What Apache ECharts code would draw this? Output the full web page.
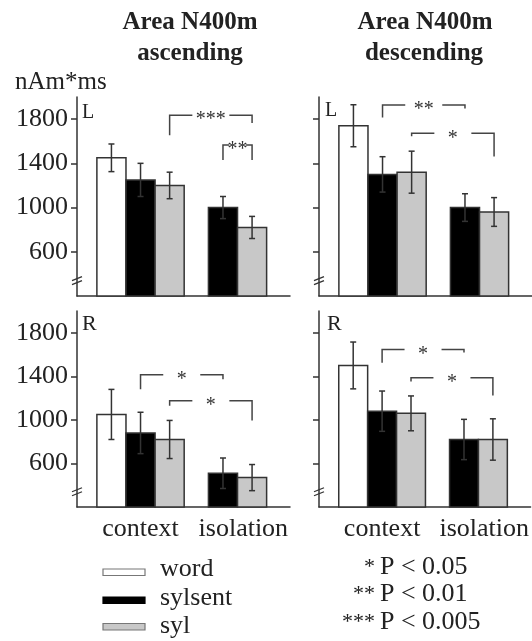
<!DOCTYPE html>
<html>
<head>
<meta charset="utf-8">
<script src="https://cdn.jsdelivr.net/npm/echarts@6/dist/echarts.min.js"></script>
<style>
  html, body { margin: 0; padding: 0; background: #fff; }
  #chart { width: 532px; height: 641px; }
</style>
</head>
<body>
<div id="chart"></div>
<script>
const groups = ['context', 'isolation'];
const conditions = ['word', 'sylsent', 'syl'];
const condColors = ['#ffffff', '#000000', '#c8c8c8'];

// bar order in every panel: context word, context sylsent, context syl, isolation sylsent, isolation syl
const barGroup = [0, 0, 0, 1, 1];
const barCond = [0, 1, 2, 1, 2];

const yTicks = [600, 1000, 1400, 1800];

const ascL_mean = [1450, 1250, 1200, 1000, 820];
const ascL_err = [125, 150, 120, 100, 100];
const descL_mean = [1740, 1300, 1320, 1000, 960];
const descL_err = [190, 160, 190, 125, 130];
const ascR_mean = [1050, 880, 820, 510, 470];
const ascR_err = [230, 190, 175, 140, 120];
const descR_mean = [1500, 1080, 1060, 820, 820];
const descR_err = [215, 185, 160, 185, 190];

// brackets: [from bar, to bar, line level, left leg end, right leg end, label]
const ascL_sig = [[2, 4, 1836, 1655, 1764, '***'], [3, 4, 1565, 1430, 1430, '**']];
const descL_sig = [[1, 3, 1927, 1815, 1897, '**'], [2, 4, 1671, 1646, 1462, '*']];
const ascR_sig = [[1, 3, 1414, 1282, 1374, '*'], [2, 4, 1175, 1129, 994, '*']];
const descR_sig = [[1, 3, 1647, 1524, 1620, '*'], [2, 4, 1386, 1352, 1223, '*']];

const sigStars = ['*', '**', '***'];
const sigLabels = ['P < 0.05', 'P < 0.01', 'P < 0.005'];

const Y_MIN = 200, Y_MAX = 2000;
const X_MIN = -0.655, X_MAX = 1.541;
const BAR_W = 0.3;
const SERIF = 'Liberation Serif, serif';
const INK = '#333';

function barX(i) {
  const g = barGroup[i];
  const n = barGroup.filter(v => v === g).length;
  const slot = barGroup.slice(0, i).filter(v => v === g).length;
  return g + (slot - (n - 1) / 2) * BAR_W;
}

function renderBar(params, api) {
  const i = api.value(3);
  const mean = api.value(1), err = api.value(2);
  const xc = barX(i);
  const tl = api.coord([xc - BAR_W / 2, mean]);
  const br = api.coord([xc + BAR_W / 2, Y_MIN]);
  const hi = api.coord([xc, mean + err]);
  const lo = api.coord([xc, mean - err]);
  const ln = { stroke: INK, lineWidth: 1.5 };
  return {
    type: 'group',
    children: [
      { type: 'rect', shape: { x: tl[0], y: tl[1], width: br[0] - tl[0], height: br[1] - tl[1] },
        style: { fill: condColors[barCond[i]], stroke: INK, lineWidth: 1.5 } },
      { type: 'line', shape: { x1: hi[0], y1: hi[1], x2: lo[0], y2: lo[1] }, style: ln },
      { type: 'line', shape: { x1: hi[0] - 3, y1: hi[1], x2: hi[0] + 3, y2: hi[1] }, style: ln },
      { type: 'line', shape: { x1: lo[0] - 3, y1: lo[1], x2: lo[0] + 3, y2: lo[1] }, style: ln }
    ]
  };
}

function makeSigRenderer(sig) {
  return function (params, api) {
    const r = sig[params.dataIndex];
    const xa = barX(r[0]), xb = barX(r[1]);
    const a = api.coord([xa, r[2]]), b = api.coord([xb, r[2]]);
    const la = api.coord([xa, r[3]]), rb = api.coord([xb, r[4]]);
    const gap = Math.min(37, b[0] - a[0] - 12);
    const mid = (a[0] + b[0]) / 2;
    const ln = { stroke: '#444', lineWidth: 1.5, fill: null };
    return {
      type: 'group',
      children: [
        { type: 'polyline', shape: { points: [la, a, [mid - gap / 2, a[1]]] }, style: ln },
        { type: 'polyline', shape: { points: [[mid + gap / 2, b[1]], b, rb] }, style: ln },
        { type: 'text', x: mid, y: a[1] + 5,
          style: { text: r[5], font: '20px ' + SERIF, fill: INK, align: 'center', verticalAlign: 'middle' } }
      ]
    };
  };
}

function renderBreak(params, api) {
  const p = api.coord([X_MIN, api.value(1)]);
  const ln = { stroke: INK, lineWidth: 1.3 };
  return {
    type: 'group',
    children: [
      { type: 'line', shape: { x1: p[0] - 5, y1: p[1], x2: p[0] + 5, y2: p[1] - 4 }, style: ln },
      { type: 'line', shape: { x1: p[0] - 5, y1: p[1] + 4, x2: p[0] + 5, y2: p[1] }, style: ln }
    ]
  };
}

const panels = [
  { mean: ascL_mean, err: ascL_err, sig: ascL_sig, grid: { left: 77, top: 97, width: 213, height: 199 }, yLab: true, xLab: false },
  { mean: descL_mean, err: descL_err, sig: descL_sig, grid: { left: 319, top: 97, width: 213, height: 199 }, yLab: false, xLab: false },
  { mean: ascR_mean, err: ascR_err, sig: ascR_sig, grid: { left: 77, top: 311, width: 213, height: 196 }, yLab: true, xLab: true },
  { mean: descR_mean, err: descR_err, sig: descR_sig, grid: { left: 319, top: 311, width: 213, height: 196 }, yLab: false, xLab: true }
];

const grid = [], xAxis = [], yAxis = [], series = [];
panels.forEach((p, k) => {
  grid.push(p.grid);
  xAxis.push({
    type: 'value', gridIndex: k, min: X_MIN, max: X_MAX,
    axisLine: { show: true, onZero: false, lineStyle: { color: INK, width: 1.5 } },
    axisTick: { show: false },
    splitLine: { show: false },
    axisLabel: {
      show: p.xLab, customValues: [0, 1.06], margin: 9,
      formatter: v => groups[Math.round(v)],
      fontFamily: SERIF, fontSize: 26, color: '#222'
    }
  });
  yAxis.push({
    type: 'value', gridIndex: k, min: Y_MIN, max: Y_MAX, interval: 400,
    axisLine: { show: true, onZero: false, lineStyle: { color: INK, width: 1.5 } },
    axisTick: { show: true, customValues: yTicks, length: 6, lineStyle: { color: INK, width: 1.5 } },
    splitLine: { show: false },
    axisLabel: {
      show: p.yLab, customValues: yTicks, margin: 9,
      formatter: v => String(v),
      fontFamily: SERIF, fontSize: 26, color: '#222'
    }
  });
  series.push({
    type: 'custom', xAxisIndex: k, yAxisIndex: k,
    encode: { x: 0, y: 1 },
    data: p.mean.map((m, i) => [barX(i), m, p.err[i], i]),
    renderItem: renderBar
  });
  series.push({
    type: 'custom', xAxisIndex: k, yAxisIndex: k,
    encode: { x: 0, y: 1 },
    data: p.sig.map(r => [barX(r[0]), r[2]]),
    renderItem: makeSigRenderer(p.sig)
  });
  series.push({
    type: 'custom', xAxisIndex: k, yAxisIndex: k,
    encode: { x: 0, y: 1 },
    data: [[X_MIN, 340]],
    renderItem: renderBreak
  });
});

function txt(text, x, y, size, opts) {
  return {
    type: 'text', x: x, y: y, silent: true,
    style: Object.assign({ text: text, font: size + 'px ' + SERIF, fill: '#222', align: 'left', verticalAlign: 'middle' }, opts || {})
  };
}
function boldTxt(text, x, y) {
  return txt(text, x, y, 25, { align: 'center', font: 'bold 25px ' + SERIF });
}

const graphic = [
  boldTxt('Area N400m', 190, 23),
  boldTxt('ascending', 190, 54),
  boldTxt('Area N400m', 425, 23),
  boldTxt('descending', 424, 54),
  txt('nAm*ms', 15, 82, 25),
  txt('L', 82, 113, 20),
  txt('L', 325, 111, 20),
  txt('R', 82, 324, 22),
  txt('R', 327, 324, 22)
];

const legendRows = [569.5, 597.7, 625.7];
const swatchTop = [569, 597, 623.5];
conditions.forEach((c, i) => {
  graphic.push({
    type: 'rect', silent: true,
    shape: { x: 103, y: swatchTop[i], width: 42, height: 6.5 },
    style: { fill: condColors[i], stroke: i === 1 ? '#000' : '#777', lineWidth: 1.2 }
  });
  graphic.push(txt(c, 160, legendRows[i], 26));
});
const sigRows = [567, 594.5, 622];
sigStars.forEach((s, i) => {
  graphic.push(txt(s, 375, sigRows[i], 22, { align: 'right' }));
  graphic.push(txt(sigLabels[i], 380, sigRows[i], 26));
});

const chart = echarts.init(document.getElementById('chart'), null, { renderer: 'canvas' });
chart.setOption({
  animation: false,
  backgroundColor: '#fff',
  grid: grid,
  xAxis: xAxis,
  yAxis: yAxis,
  series: series,
  graphic: graphic
});
</script>
</body>
</html>
